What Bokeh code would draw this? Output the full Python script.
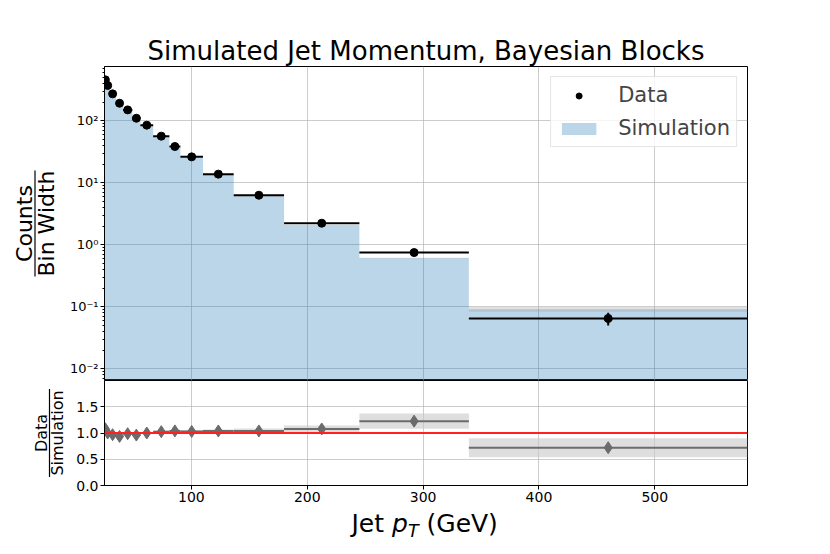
import math
from bokeh.plotting import figure
from bokeh.models import (Range1d, FixedTicker, Label, Span, Legend,
                          LegendItem, CustomJSTickFormatter, PrintfTickFormatter)
from bokeh.layouts import column, row
from bokeh.embed import file_html
from bokeh.resources import INLINE

# ---------------- data ----------------
bin_edges = [25, 26.5, 29, 35, 41, 49, 56, 67, 81, 90.5, 110, 136.5, 180, 245, 339.5, 580]
data_values = [458, 371, 272, 192, 150, 110, 85, 56.5, 38.5, 26.2, 13.8, 6.3, 2.23, 0.75, 0.065]
data_errors = [8, 7, 5, 3.5, 2.8, 2.0, 1.6, 1.1, 0.8, 0.55, 0.3, 0.15, 0.06, 0.03, 0.015]
sim_values = [424, 371, 281, 205, 152, 115, 85, 55, 37, 25.4, 13.3, 6.06, 2.07, 0.61, 0.0915]
sim_errors = [2, 2, 1.5, 1, 0.8, 0.6, 0.45, 0.3, 0.2, 0.13, 0.07, 0.04, 0.015, 0.006, 0.008]
ratio_values = [1.08, 1.00, 0.968, 0.935, 0.987, 0.96, 1.00, 1.026, 1.04, 1.03, 1.039, 1.039, 1.077, 1.226, 0.72]
ratio_errors = [0.06, 0.03, 0.03, 0.03, 0.03, 0.03, 0.03, 0.03, 0.03, 0.03, 0.03, 0.03, 0.03, 0.04, 0.05]
ratio_band = [0.02, 0.02, 0.02, 0.02, 0.02, 0.02, 0.02, 0.02, 0.02, 0.025, 0.03, 0.045, 0.065, 0.145, 0.18]
x_ticks = [100, 200, 300, 400, 500]
log_ticks = [0.01, 0.1, 1, 10, 100]
ratio_ticks = [0.0, 0.5, 1.0, 1.5]
REF = 1.0

TITLE = "Simulated Jet Momentum, Bayesian Blocks"
FONT = "DejaVu Sans"

# ---------------- layout constants (page pixels) ----------------
X0, X1 = 25, 580
LOG_TOP, LOG_BOT = 2.876, -2.189
R0, R1 = 0.0, 2.0
W = 800
FL, FR = 104, 747          # frame left/right
MT, MB = 66, 380           # main frame top/bottom
RB = 485                   # ratio frame bottom
RAT_BOTTOM = 24            # space under ratio frame for tick labels
XL_TOP = RB + RAT_BOTTOM   # top of the x-label strip
XL_BOT = 548
LW = 66                    # width of the left label strip
MID = 0.35                 # baseline -> visual middle, in em

lefts = bin_edges[:-1]
rights = bin_edges[1:]
centers = [(a + b) / 2 for a, b in zip(lefts, rights)]


def blank(w, x0, x1, ytop, ybot):
    f = figure(width=w, height=ybot - ytop, x_range=Range1d(x0, x1), y_range=Range1d(ybot, ytop),
               x_axis_location=None, y_axis_location=None,
               output_backend="svg", toolbar_location=None,
               min_border_left=0, min_border_right=0, min_border_top=0, min_border_bottom=0)
    f.grid.visible = False
    f.outline_line_color = None
    f.background_fill_color = "white"
    f.border_fill_color = "white"
    return f


def lab(fig, x, y, text, size, angle=0.0, align="left", style="normal"):
    fig.add_layout(Label(x=x, y=y, text=text, angle=angle, text_align=align,
                         text_baseline="middle", text_font=FONT, text_font_size=f"{size}px",
                         text_font_style=style, text_color="black"))


x_range = Range1d(X0, X1)

# ---------------- title strip ----------------
t_fig = blank(W, 0, W, 0, MT)
lab(t_fig, (FL + FR) / 2, 60 - MID * 26, TITLE, 26, align="center")
t_fig.scatter([0], [0], size=0, alpha=0)

# ---------------- main panel ----------------
p = figure(width=W - LW, height=MB - MT, x_range=x_range,
           y_range=Range1d(10 ** LOG_BOT, 10 ** LOG_TOP), y_axis_type="log",
           output_backend="svg", toolbar_location=None,
           min_border_left=FL - LW, min_border_right=W - FR,
           min_border_top=0, min_border_bottom=0)

step_x = [bin_edges[0]]
step_y = [1e-5]
for i, v in enumerate(sim_values):
    step_x += [bin_edges[i], bin_edges[i + 1]]
    step_y += [v, v]
step_x.append(bin_edges[-1])
step_y.append(1e-5)
sim_r = p.patch(step_x, step_y, fill_color="#1f77b4", fill_alpha=0.3, line_color=None)

p.quad(left=lefts, right=rights,
       bottom=[v - e for v, e in zip(sim_values, sim_errors)],
       top=[v + e for v, e in zip(sim_values, sim_errors)],
       fill_color="#9a9a9a", fill_alpha=0.3, line_color=None)

p.segment(x0=lefts, y0=data_values, x1=rights, y1=data_values, line_color="black", line_width=2)
p.segment(x0=centers, y0=[v - e for v, e in zip(data_values, data_errors)],
          x1=centers, y1=[v + e for v, e in zip(data_values, data_errors)],
          line_color="black", line_width=2)
data_r = p.scatter(centers, data_values, size=8, color="black")

p.xaxis.visible = False
p.xgrid.ticker = FixedTicker(ticks=x_ticks)
minor = []
for d in range(-3, 3):
    for k in range(2, 10):
        minor.append(k * 10 ** d)
p.yaxis.ticker = FixedTicker(ticks=log_ticks, minor_ticks=minor)
p.ygrid.ticker = FixedTicker(ticks=log_ticks)
p.yaxis.formatter = CustomJSTickFormatter(code="""
const sup = {"-": "\u207b", "0": "\u2070", "1": "\u00b9", "2": "\u00b2", "3": "\u00b3"};
const e = Math.round(Math.log10(tick));
return "10" + String(e).split("").map(c => sup[c]).join("");
""")
p.yaxis.major_label_text_font_size = "13px"
p.yaxis.minor_tick_out = 2
p.yaxis.minor_tick_in = 0

legend = Legend(items=[LegendItem(label="Data", renderers=[data_r]),
                       LegendItem(label="Simulation", renderers=[sim_r])],
                location="top_right")
legend.label_text_font = FONT
legend.label_text_font_size = "21px"
legend.glyph_width = 43
legend.glyph_height = 15
legend.label_height = 22
legend.label_standoff = 18
legend.padding = 6
legend.spacing = 9
legend.margin = 10
legend.border_line_color = "#cccccc"
legend.border_line_width = 1
legend.background_fill_alpha = 0.8
p.add_layout(legend)

# ---------------- ratio panel ----------------
r = figure(width=W - LW, height=RB - MB + RAT_BOTTOM, x_range=x_range, y_range=Range1d(R0, R1),
           output_backend="svg", toolbar_location=None,
           min_border_left=FL - LW, min_border_right=W - FR,
           min_border_top=0, min_border_bottom=RAT_BOTTOM)

r.quad(left=lefts, right=rights,
       bottom=[v - b for v, b in zip(ratio_values, ratio_band)],
       top=[v + b for v, b in zip(ratio_values, ratio_band)],
       fill_color="#c8c8c8", fill_alpha=0.6, line_color=None)
r.add_layout(Span(location=REF, dimension="width", line_color="#ff2020", line_width=2))
r.segment(x0=lefts, y0=ratio_values, x1=rights, y1=ratio_values, line_color="#6b6b6b", line_width=2)
r.segment(x0=centers, y0=[v - e for v, e in zip(ratio_values, ratio_errors)],
          x1=centers, y1=[v + e for v, e in zip(ratio_values, ratio_errors)],
          line_color="#6b6b6b", line_width=1.5)
r.scatter(centers, ratio_values, marker="diamond", size=12, color="#6b6b6b")

r.xaxis.ticker = FixedTicker(ticks=x_ticks)
r.xgrid.ticker = FixedTicker(ticks=x_ticks)
r.yaxis.ticker = FixedTicker(ticks=ratio_ticks)
r.ygrid.ticker = FixedTicker(ticks=ratio_ticks)
r.yaxis.formatter = PrintfTickFormatter(format="%.1f")
r.xaxis.major_label_text_font_size = "14px"
r.yaxis.major_label_text_font_size = "14px"
for ax in r.axis:
    ax.minor_tick_out = 0
    ax.minor_tick_in = 0

# ---------------- left label strip (both panels) ----------------
yl = blank(LW, 0, LW, MT, XL_TOP)
ymid = (MT + MB) / 2
lab(yl, 24, ymid, "Counts", 22, angle=math.pi / 2, align="center")
lab(yl, 45.5, ymid, "Bin Width", 22, angle=math.pi / 2, align="center")
rmid = (MB + RB) / 2
lab(yl, 41, rmid, "Data", 16, angle=math.pi / 2, align="center")
lab(yl, 57, rmid, "Simulation", 16, angle=math.pi / 2, align="center")
yl.segment(x0=[34.5, 49], y0=[ymid - 53, rmid - 44], x1=[34.5, 49], y1=[ymid + 53, rmid + 44],
           line_color="black", line_width=1.2)

# ---------------- x-label strip ----------------
xl_fig = blank(W, 0, W, XL_TOP, XL_BOT)
XB = 532
lab(xl_fig, 351, XB - MID * 25, "Jet", 25)
lab(xl_fig, 391.5, XB - MID * 25, "p", 25, style="italic")
lab(xl_fig, 407.5, XB + 5 - MID * 17.5, "T", 17.5, style="italic")
lab(xl_fig, 426, XB - MID * 25, "(GeV)", 25)
xl_fig.scatter([0], [XL_TOP], size=0, alpha=0)

# ---------------- common styling ----------------
for fig in (p, r):
    fig.outline_line_color = "black"
    fig.outline_line_width = 1
    fig.outline_line_alpha = 1
    fig.background_fill_color = "white"
    fig.border_fill_color = "white"
    fig.grid.grid_line_color = "#b0b0b0"
    fig.grid.grid_line_alpha = 0.65
    fig.grid.grid_line_width = 1
    for ax in fig.axis:
        ax.axis_line_color = "black"
        ax.major_tick_line_color = "black"
        ax.minor_tick_line_color = "black"
        ax.major_tick_out = 4
        ax.major_tick_in = 0
        ax.major_label_standoff = 2
        ax.major_label_text_font = FONT
        ax.major_label_text_color = "black"

panels = column(p, r, spacing=0)
layout = column(t_fig, row(yl, panels, spacing=0), xl_fig, spacing=0)
open("out.html", "w").write(file_html(layout, INLINE))
